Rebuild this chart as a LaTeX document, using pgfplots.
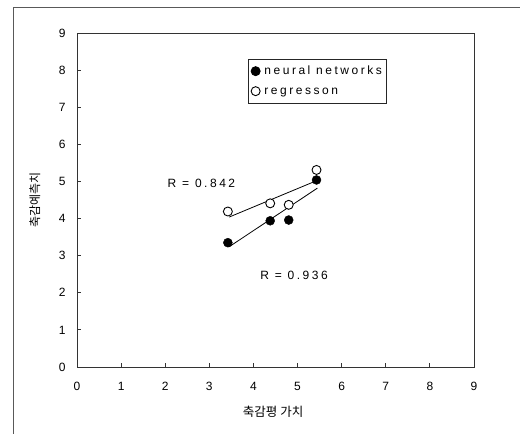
\documentclass[border=0pt]{standalone}
\usepackage{pgfplots}
\pgfplotsset{compat=1.18}
\usepackage{fontspec}
\setmainfont{Liberation Sans}[LetterSpace=21]
\newfontfamily\kr{Noto Sans CJK KR}
\pgfplotsset{dotlegend/.style={legend image code/.code={\draw[##1] plot coordinates {(0pt,0pt)};}}}
\begin{document}
\begin{tikzpicture}[x=1pt,y=1pt]
\begin{axis}[
  at={(77pt,67pt)}, anchor=south west,
  scale only axis, width=397pt, height=334pt,
  xmin=0, xmax=9, ymin=0, ymax=9,
  xtick={0,1,...,9}, ytick={0,1,...,9},
  xtick pos=left, ytick pos=left,
  tick align=inside, major tick length=4pt,
  axis line style={draw=black!80, line width=0.9pt},
  every tick/.style={black!80, line width=0.8pt},
  font=\fontsize{12}{14}\selectfont,
  /pgf/number format/assume math mode=true,
  xticklabel style={yshift=-12pt},
  yticklabel style={xshift=-8pt},
  xlabel={\kr 축감평 가치},
  ylabel={\kr 축감예측치},
  xlabel style={at={(axis description cs:0.494,-0.135)}, anchor=center, font=\fontsize{12.5}{14}\selectfont},
  ylabel style={at={(axis description cs:-0.106,0.5)}, anchor=center, font=\fontsize{12}{14}\selectfont},
  legend cell align=left,
  legend style={at={(0.43,0.923)}, anchor=north west, draw=black!85, line width=0.9pt,
    inner xsep=3pt, inner ysep=4pt, row sep=4pt,
    nodes={inner sep=2pt, text height=9pt, text depth=3pt},
    /tikz/every odd column/.append style={column sep=2.3pt},
    font=\fontsize{12}{14}\selectfont},
]
% regression lines
\addplot[black, line width=0.8pt, forget plot] coordinates {(3.45,4.04) (5.43,5.02)};
\addplot[black, line width=0.8pt, forget plot] coordinates {(3.45,3.24) (5.45,4.82)};
% neural networks (filled)
\addplot[only marks, mark=*, mark size=4.5pt, black, dotlegend]
  coordinates {(3.42,3.35) (4.38,3.94) (4.80,3.96) (5.43,5.04)};
\addlegendentry{neural networks\hspace{3pt}}
% regression (open)
\addplot[only marks, mark=*, mark size=4.5pt, mark options={fill=white, draw=black, line width=0.9pt}, dotlegend]
  coordinates {(3.42,4.19) (4.38,4.41) (4.80,4.37) (5.43,5.31)};
\addlegendentry{regresson}
\node[font=\fontsize{12}{14}\selectfont] at (axis cs:2.82,4.96) {R = 0.842};
\node[font=\fontsize{12}{14}\selectfont] at (axis cs:4.92,2.48) {R = 0.936};
\end{axis}
\draw[black!65, line width=1pt] (13,-10) -- (13,426) -- (530,426);
\pgfresetboundingbox
\useasboundingbox (0,0) rectangle (520,434);
\end{tikzpicture}
\end{document}
